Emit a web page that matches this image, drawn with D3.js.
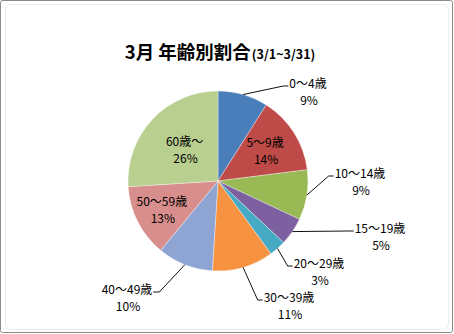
<!DOCTYPE html>
<html>
<head>
<meta charset="utf-8">
<script src="https://cdn.jsdelivr.net/npm/d3@7"></script>
<style>
  html, body { margin: 0; padding: 0; background: #ffffff; }
  svg { display: block; }
</style>
</head>
<body>
<svg id="chart" width="454" height="334"></svg>
<script>
// Age groups and their share of the month's total (%)
const categories = ["0～4歳", "5～9歳", "10～14歳", "15～19歳", "20～29歳", "30～39歳", "40～49歳", "50～59歳", "60歳～"];
const shares = [9, 14, 9, 5, 3, 11, 10, 13, 26];
const sliceColors = ["#4a7ebb", "#be4b48", "#98b954", "#7d60a0", "#46aac5", "#f69240", "#8ea5d3", "#d88e8c", "#b8cf8f"];
const titleMain = "3月 年齢別割合";
const titleSub = "(3/1~3/31)";

// Label placement: inside labels sit on a fraction of the radius,
// outside labels are offset from the pie centre and joined by a leader.
const labelLayout = [
  { out: true,  dx: 90,  dy: -98 },
  { out: false, r: 0.62 },
  { out: true,  dx: 142, dy: -8 },
  { out: true,  dx: 162, dy: 47 },
  { out: true,  dx: 101, dy: 82 },
  { out: true,  dx: 71,  dy: 116 },
  { out: true,  dx: -91, dy: 108 },
  { out: false, r: 0.70 },
  { out: false, r: 0.51 }
];

const W = 454, H = 334;
const cx = 218, cy = 181, R = 90;
const labelFont = "'Noto Sans CJK JP', 'Noto Sans', sans-serif";

const svg = d3.select("#chart");

// chart area frame
svg.append("rect")
  .attr("x", 0.5).attr("y", 0.5)
  .attr("width", W - 2).attr("height", H - 2)
  .attr("rx", 2)
  .attr("fill", "#ffffff")
  .attr("stroke", "#8a8a8a")
  .attr("stroke-width", 1);
svg.append("rect")
  .attr("x", 5.5).attr("y", 4.5)
  .attr("width", W - 11).attr("height", H - 9)
  .attr("rx", 6)
  .attr("fill", "none")
  .attr("stroke", "#ececec")
  .attr("stroke-width", 1);

// title
const title = svg.append("text")
  .attr("x", 220).attr("y", 59)
  .attr("text-anchor", "middle")
  .attr("font-family", labelFont)
  .attr("font-weight", "bold")
  .attr("fill", "#000");
title.append("tspan").attr("font-size", 18.5).text(titleMain);
title.append("tspan").attr("font-size", 12.5).attr("dx", 1).text(titleSub);

const data = categories.map((c, i) => ({ name: c, value: shares[i], color: sliceColors[i], layout: labelLayout[i] }));

const pie = d3.pie().value(d => d.value).sort(null);
const arcs = pie(data);
const arc = d3.arc().innerRadius(0).outerRadius(R);

const g = svg.append("g").attr("transform", `translate(${cx},${cy})`);

g.selectAll("path.slice")
  .data(arcs)
  .enter().append("path")
  .attr("class", "slice")
  .attr("d", arc)
  .attr("fill", d => d.data.color)
  .attr("stroke", "#ffffff")
  .attr("stroke-opacity", 0.6)
  .attr("stroke-width", 0.6);

const fmt = v => d3.format("d")(v) + "%";
const lineGap = 17;

arcs.forEach(a => {
  const L = a.data.layout;
  const mid = (a.startAngle + a.endAngle) / 2;
  let tx, ty;
  if (L.out) {
    tx = L.dx; ty = L.dy;
  } else {
    const rr = R * L.r;
    tx = Math.sin(mid) * rr;
    ty = -Math.cos(mid) * rr - lineGap / 2;
  }
  const nameText = g.append("text")
    .attr("x", tx).attr("y", ty + 4.5)
    .attr("text-anchor", "middle")
    .attr("font-family", labelFont)
    .attr("font-size", 12)
    .attr("fill", "#000")
    .text(a.data.name);
  g.append("text")
    .attr("x", tx + 1).attr("y", ty + 4.5 + lineGap)
    .attr("text-anchor", "middle")
    .attr("font-family", labelFont)
    .attr("font-size", 12)
    .attr("fill", "#000")
    .text(fmt(a.data.value));

  if (L.out) {
    const w = nameText.node().getComputedTextLength();
    const ax = Math.sin(mid) * R, ay = -Math.cos(mid) * R;
    const right = tx < 0;
    const edge = right ? tx + w / 2 + 1 : tx - w / 2 - 1;
    const ex = right ? edge + 6 : edge - 5;
    const ey = ty + 3;
    g.append("path")
      .attr("d", d3.line()([[ax, ay], [ex, ey], [edge, ey]]))
      .attr("fill", "none")
      .attr("stroke", "#111")
      .attr("stroke-width", 1);
  }
});
</script>
</body>
</html>
